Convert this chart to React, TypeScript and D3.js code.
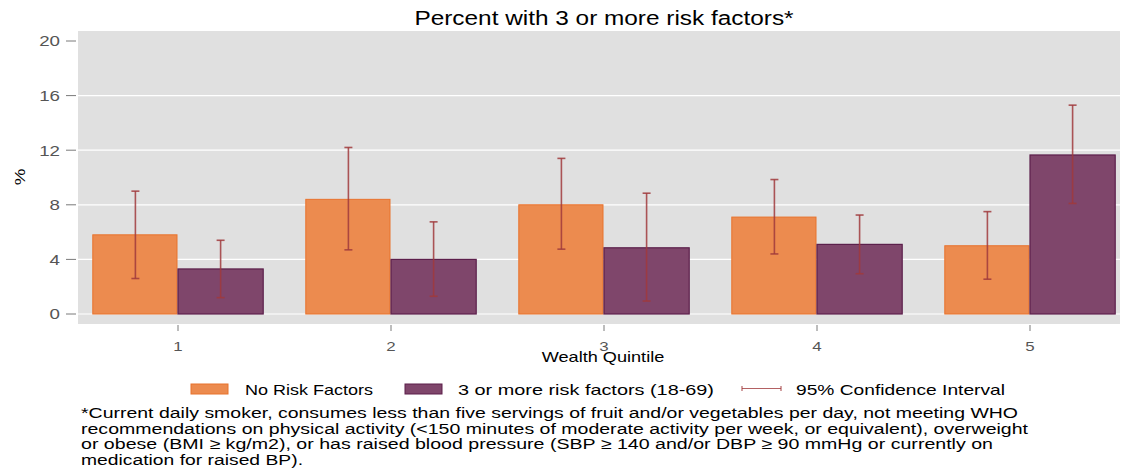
import React from 'react';
import * as d3 from 'd3';

const categories = ['1', '2', '3', '4', '5'];
const noRisk = [5.8, 8.4, 8.0, 7.1, 5.0];
const noRiskLo = [2.6, 4.7, 4.75, 4.4, 2.55];
const noRiskHi = [9.0, 12.2, 11.4, 9.85, 7.5];
const threePlus = [3.3, 4.0, 4.85, 5.1, 11.65];
const threeLo = [1.2, 1.3, 0.95, 2.95, 8.1];
const threeHi = [5.4, 6.75, 8.85, 7.25, 15.3];
const yTicks = [0, 4, 8, 12, 16, 20];
const legendLabels = ['No Risk Factors', '3 or more risk factors (18-69)', '95% Confidence Interval'];
const titleText = 'Percent with 3 or more risk factors*';
const xTitle = 'Wealth Quintile';
const yTitle = '%';
const footnote = [
  '*Current daily smoker, consumes less than five servings of fruit and/or vegetables per day, not meeting WHO',
  'recommendations on physical activity (<150 minutes of moderate activity per week, or equivalent), overweight',
  'or obese (BMI \u2265 kg/m2), or has raised blood pressure (SBP \u2265 140 and/or DBP \u2265 90 mmHg or currently on',
  'medication for raised BP).',
];

const FONT = '"Liberation Sans", Arial, Helvetica, sans-serif';
const SX = 1.25;
const ORANGE = '#ec8b4f';
const ORANGE_S = '#e8722c';
const PURPLE = '#7f466b';
const PURPLE_S = '#5c1f4b';
const CI = '#a0393c';

function T({ x, y, size, anchor = 'start', fill = '#000', children, rotate = 0, len }: any) {
  return (
    <text
      transform={`translate(${x},${y}) rotate(${rotate}) scale(${SX},1)`}
      fontSize={size}
      textAnchor={anchor}
      fill={fill}
      fontFamily={FONT}
      textLength={len ? len / SX : undefined}
      lengthAdjust={len ? 'spacingAndGlyphs' : undefined}
    >
      {children}
    </text>
  );
}

export default function App() {
  const W = 1126;
  const H = 468;
  const plotL = 78, plotR = 1120, plotT = 31, plotB = 324;
  const x = d3.scaleBand<string>().domain(categories).range([71.5, 1136.5]).padding(0);
  const y = d3.scaleLinear().domain([0, 20]).range([314, 41]);
  const bw = x.bandwidth() * 0.4;
  const cx = (c: string) => (x(c) as number) + x.bandwidth() / 2;

  const ciBar = (xc: number, lo: number, hi: number, key: string) => (
    <g key={key} stroke={CI} strokeWidth={1.6} strokeOpacity={0.85}>
      <line x1={xc} x2={xc} y1={y(lo)} y2={y(hi)} />
      <line x1={xc - 4} x2={xc + 4} y1={y(lo)} y2={y(lo)} />
      <line x1={xc - 4} x2={xc + 4} y1={y(hi)} y2={y(hi)} />
    </g>
  );

  const footLens = [937, 947, 912, 222];

  return (
    <svg width={W} height={H} style={{ position: 'absolute', left: 0, top: 0, display: 'block' }}>
      <rect x={0} y={0} width={W} height={H} fill="#fff" />
      <T x={604} y={25} size={19.5} anchor="middle">{titleText}</T>
      <rect x={plotL} y={plotT} width={plotR - plotL} height={plotB - plotT} fill="#e0e0e0" />
      {yTicks.map((t) => (
        <g key={t}>
          {t < 20 && <line x1={plotL} x2={plotR} y1={y(t)} y2={y(t)} stroke="#fff" strokeWidth={1.2} />}
          <line x1={66} x2={76} y1={y(t)} y2={y(t)} stroke="#7a7a7a" strokeWidth={1} />
          <T x={60} y={y(t) + 5.3} size={15} anchor="end" fill="#555">{String(t)}</T>
        </g>
      ))}
      <T x={25} y={177} size={15} anchor="middle" rotate={-90}>{yTitle}</T>
      {categories.map((c, i) => {
        const xc = cx(c);
        return (
          <g key={c}>
            <rect x={xc - bw} y={y(noRisk[i])} width={bw - 1} height={y(0) - y(noRisk[i])} fill={ORANGE} stroke={ORANGE_S} strokeWidth={1} />
            <rect x={xc} y={y(threePlus[i])} width={bw} height={y(0) - y(threePlus[i])} fill={PURPLE} stroke={PURPLE_S} strokeWidth={1.2} />
            {ciBar(xc - bw / 2, noRiskLo[i], noRiskHi[i], 'a' + c)}
            {ciBar(xc + bw / 2, threeLo[i], threeHi[i], 'b' + c)}
            <line x1={xc} x2={xc} y1={325} y2={331} stroke="#7a7a7a" strokeWidth={1} />
            <T x={xc} y={351} size={13.5} anchor="middle" fill="#555">{c}</T>
          </g>
        );
      })}
      <T x={603} y={362} size={14.5} anchor="middle">{xTitle}</T>
      {/* legend */}
      <rect x={191} y={384} width={37} height={10} fill={ORANGE} stroke={ORANGE_S} strokeWidth={1} />
      <T x={245} y={395} size={14.4} len={128}>{legendLabels[0]}</T>
      <rect x={405} y={384} width={37} height={10} fill={PURPLE} stroke={PURPLE_S} strokeWidth={1} />
      <T x={458} y={395} size={14.4} len={256}>{legendLabels[1]}</T>
      <g stroke={CI} strokeWidth={1.2} strokeOpacity={0.8}>
        <line x1={742} x2={781} y1={388.5} y2={388.5} />
        <line x1={742} x2={742} y1={386} y2={391} />
        <line x1={781} x2={781} y1={386} y2={391} />
      </g>
      <T x={796} y={395} size={14.4} len={209}>{legendLabels[2]}</T>
      {footnote.map((line, i) => (
        <T key={i} x={81} y={418 + i * 15.5} size={15} len={footLens[i]}>{line}</T>
      ))}
    </svg>
  );
}
